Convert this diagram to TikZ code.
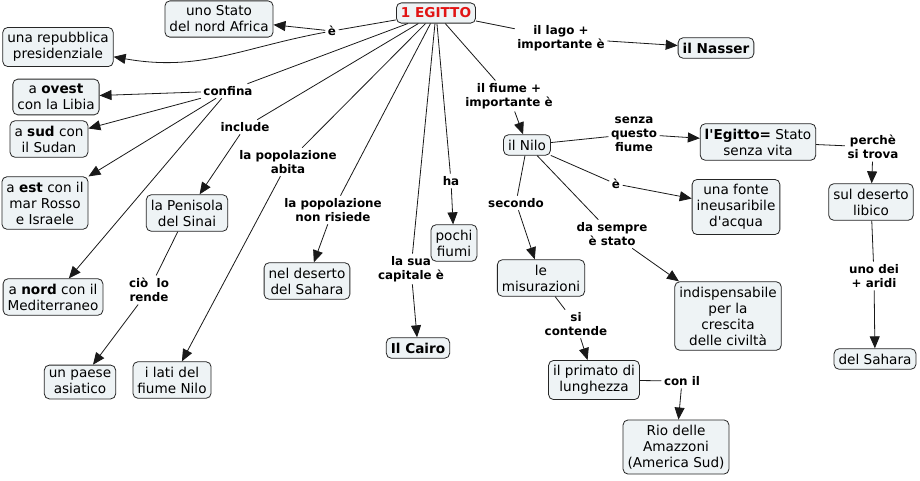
\documentclass[tikz,border=0pt]{standalone}
\usepackage{fontspec}
\setmainfont{DejaVu Sans}
\usetikzlibrary{arrows.meta}
\definecolor{nodefill}{RGB}{238,243,245}
\definecolor{egred}{RGB}{225,20,20}
\tikzset{
  concept/.style={draw=black!85, fill=nodefill, rounded corners=5pt, align=center,
    font=\fontsize{13.6}{16}\selectfont, inner xsep=4.5pt, inner ysep=5pt, line width=0.8pt},
  lab/.style={align=center, font=\fontsize{11.9}{14}\selectfont\bfseries, inner sep=2.5pt},
  con/.style={line width=0.8pt, draw=black!90},
  arr/.style={con, -{Triangle[length=12pt,width=10pt]}},
}
\begin{document}
\begin{tikzpicture}[x=1pt,y=-1pt]
\useasboundingbox (0,0) rectangle (920,480);
\fill[white] (0,0) rectangle (920,480);

% concepts
\node[concept, text=egred, font=\fontsize{13.6}{16}\selectfont\bfseries] (eg) at (436,13) {1 EGITTO};
\node[concept] (stato) at (219,19) {uno Stato\\del nord Africa};
\node[concept] (repub) at (58,47) {una repubblica\\presidenziale};
\node[concept] (ovest) at (56,97) {a \textbf{ovest}\\con la Libia};
\node[concept] (sud) at (49,139) {a \textbf{sud} con\\il Sudan};
\node[concept] (est) at (45,203) {a \textbf{est} con il\\mar Rosso\\e Israele};
\node[concept] (nord) at (53,297) {a \textbf{nord} con il\\Mediterraneo};
\node[concept] (sinai) at (187,213) {la Penisola\\del Sinai};
\node[concept] (asia) at (80,382) {un paese\\asiatico};
\node[concept] (lati) at (172,380) {i lati del\\fiume Nilo};
\node[concept] (deserto) at (307,281) {nel deserto\\del Sahara};
\node[concept, font=\fontsize{13.6}{16}\selectfont\bfseries] (cairo) at (418,348) {Il Cairo};
\node[concept] (pochi) at (454,243) {pochi\\fiumi};
\node[concept, font=\fontsize{13.6}{16}\selectfont\bfseries] (nasser) at (716,48) {il Nasser};
\node[concept] (nilo) at (527,145) {il Nilo};
\node[concept] (senza) at (758,142) {\textbf{l\textquotesingle Egitto=} Stato\\senza vita};
\node[concept] (fonte) at (736,207) {una fonte\\ineusaribile\\d\textquotesingle acqua};
\node[concept] (misur) at (541,278) {le\\misurazioni};
\node[concept] (indisp) at (728,316) {indispensabile\\per la\\crescita\\delle civiltà};
\node[concept] (libico) at (871,202) {sul deserto\\libico};
\node[concept] (sahara2) at (875,359) {del Sahara};
\node[concept] (primato) at (594,380) {il primato di\\lunghezza};
\node[concept] (rio) at (676,447) {Rio delle\\Amazzoni\\(America Sud)};

% linking phrases
\node[lab] (le) at (332,31) {è};
\node[lab] (lconf) at (228,91) {confina};
\node[lab] (linc) at (245,127) {include};
\node[lab] (labita) at (288,162) {la popolazione\\abita};
\node[lab] (lnon) at (333,210) {la popolazione\\non risiede};
\node[lab] (lcap) at (411,269) {la sua\\capitale è};
\node[lab] (lha) at (451,181) {ha};
\node[lab] (lfiume) at (509,96) {il fiume +\\importante è};
\node[lab] (llago) at (561,38) {il lago +\\importante è};
\node[lab] (lcio) at (149,290) {ciò\ \ lo\\rende};
\node[lab] (lsenza) at (634,134) {senza\\questo\\fiume};
\node[lab] (le2) at (616,184) {è};
\node[lab] (lsec) at (516,203) {secondo};
\node[lab] (lsempre) at (612,234) {da sempre\\è stato};
\node[lab] (lperche) at (873,147) {perchè\\si trova};
\node[lab] (lunodei) at (874,276) {uno dei\\+ aridi};
\node[lab] (lsi) at (576,324) {si\\contende};
\node[lab] (lconil) at (682,381) {con il};

% connectors
\draw[con] (eg) -- (le);
\draw[arr] (le) -- (stato);
\draw[arr] (le) .. controls (240,48) and (200,72) .. (repub);
\draw[con] (eg) -- (lconf);
\draw[arr] (lconf) -- (ovest);
\draw[arr] (lconf) -- (sud);
\draw[arr] (lconf) -- (est);
\draw[arr] (lconf) -- (nord);
\draw[con] (eg) -- (linc);
\draw[arr] (linc) -- (sinai);
\draw[con] (sinai) -- (lcio);
\draw[arr] (lcio) -- (asia);
\draw[con] (eg) -- (labita);
\draw[arr] (labita) -- (lati);
\draw[con] (eg) -- (lnon);
\draw[arr] (lnon) -- (deserto);
\draw[con] (eg) -- (lcap);
\draw[arr] (lcap) -- (cairo);
\draw[con] (eg) -- (lha);
\draw[arr] (lha) -- (pochi);
\draw[con] (eg) -- (lfiume);
\draw[arr] (lfiume) -- (nilo);
\draw[con] (eg) -- (llago);
\draw[arr] (llago) -- (nasser);
\draw[con] (nilo) -- (lsenza);
\draw[arr] (lsenza) -- (senza);
\draw[con] (nilo) -- (le2);
\draw[arr] (le2) -- (fonte);
\draw[con] (nilo) -- (lsec);
\draw[arr] (lsec) -- (misur);
\draw[con] (nilo) -- (lsempre);
\draw[arr] (lsempre) -- (indisp);
\draw[con] (senza) -- (lperche);
\draw[arr] (lperche) -- (libico);
\draw[con] (libico) -- (lunodei);
\draw[arr] (lunodei) -- (sahara2);
\draw[con] (misur) -- (lsi);
\draw[arr] (lsi) -- (primato);
\draw[con] (primato) -- (lconil);
\draw[arr] (lconil) -- (rio);
\end{tikzpicture}
\end{document}
